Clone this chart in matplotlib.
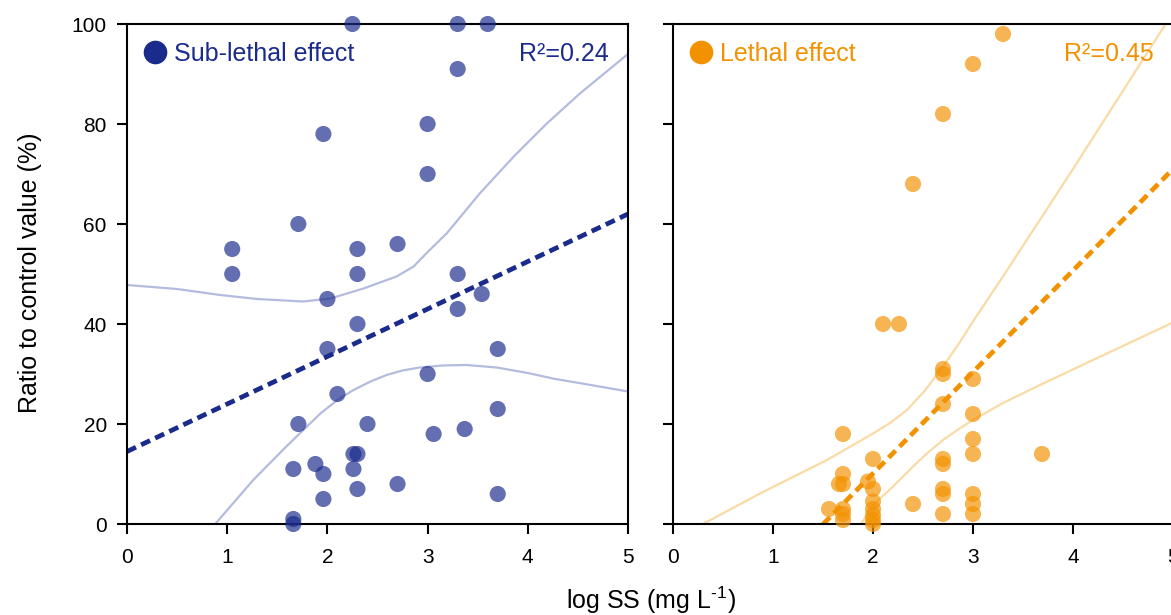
import matplotlib
matplotlib.use("Agg")
import matplotlib.pyplot as plt
import numpy as np

plt.rcParams['font.family'] = ['Liberation Sans', 'DejaVu Sans']
plt.rcParams['mathtext.fontset'] = 'custom'
plt.rcParams['mathtext.rm'] = 'Liberation Sans'
plt.rcParams['mathtext.it'] = 'Liberation Sans:italic'

# sub-lethal effect (left panel)
sub_x = [2.25, 3.30, 3.60, 3.30, 1.96, 3.00, 3.00, 1.71, 1.05, 2.30, 2.70, 1.05, 2.30, 3.30,
         2.00, 3.54, 2.30, 3.30, 2.00, 3.70, 3.00, 2.10, 3.70, 1.71, 2.40, 3.06, 3.37, 2.26,
         2.30, 1.66, 1.88, 1.96, 2.26, 2.30, 2.70, 1.96, 3.70, 1.66, 1.66]
sub_y = [100, 100, 100, 91, 78, 80, 70, 60, 55, 55, 56, 50, 50, 50,
         45, 46, 40, 43, 35, 35, 30, 26, 23, 20, 20, 18, 19, 14,
         14, 11, 12, 10, 11, 7, 8, 5, 6, 1, 0]
sub_fit = [14.5, 9.5]  # intercept, slope
sub_r2 = "R²=0.24"
sub_upper_x = [0.0, 0.5, 0.93, 1.3, 1.76, 2.03, 2.36, 2.69, 2.86, 3.02, 3.19, 3.52, 3.86, 4.19, 4.52, 5.0]
sub_upper_y = [47.8, 47.0, 45.8, 45.0, 44.5, 45.1, 47.1, 49.5, 51.5, 54.8, 58.1, 66.1, 73.5, 80.1, 86.1, 94.0]
sub_lower_x = [0.88, 1.26, 1.59, 1.93, 2.10, 2.26, 2.43, 2.59, 2.75, 2.92, 3.15, 3.39, 3.69, 4.0, 4.25, 4.6, 5.0]
sub_lower_y = [0.0, 8.8, 15.5, 22.1, 24.8, 26.8, 28.5, 29.8, 30.7, 31.3, 31.7, 31.8, 31.3, 30.2, 29.1, 27.9, 26.5]

# lethal effect (right panel)
let_x = [3.30, 3.00, 2.70, 2.40, 2.10, 2.26, 2.70, 2.70, 3.00, 2.70, 3.00, 1.70, 3.00, 3.00,
         3.69, 2.00, 2.70, 2.70, 1.70, 1.66, 1.70, 1.95, 2.00, 2.70, 2.70, 3.00, 2.00, 2.40,
         3.00, 1.56, 1.70, 2.00, 1.70, 2.00, 2.70, 3.00, 1.70, 2.00, 2.00]
let_y = [98, 92, 82, 68, 40, 40, 31, 30, 29, 24, 22, 18, 17, 14,
         14, 13, 13, 12, 10, 8, 8, 8.5, 7, 7, 6, 6, 4.5, 4,
         4, 3, 3, 3, 2, 1.8, 2, 2, 0.8, 0.8, 0]
let_fit = [-30.5, 20.3]
let_fit_start = 1.5
let_r2 = "R²=0.45"
let_upper_x = [0.30, 0.87, 1.54, 2.0, 2.17, 2.34, 2.52, 2.70, 2.85, 3.0, 3.3, 4.0, 4.92]
let_upper_y = [0.0, 6.1, 12.8, 18.1, 20.2, 22.8, 26.7, 31.5, 35.8, 40.5, 49.5, 71.0, 99.8]
let_lower_x = [1.88, 2.0, 2.20, 2.40, 2.55, 2.70, 2.85, 3.0, 3.3, 3.67, 4.20, 5.0]
let_lower_y = [0.0, 3.8, 7.5, 11.5, 14.3, 16.8, 18.9, 20.8, 24.2, 27.8, 32.8, 40.3]

navy = '#1a2b8c'
orange = '#f39200'

W, H = 1171, 615
fig = plt.figure(figsize=(W / 100, H / 100), dpi=100)
ax1 = fig.add_axes([127 / W, (H - 524) / H, 501 / W, 500 / H])
ax2 = fig.add_axes([673 / W, (H - 524) / H, 500 / W, 500 / H])


def panel(ax, xs, ys, fit, fit_x0, ux, uy, lx, ly, color, band, name, r2, show_y):
    ax.plot(ux, uy, color=band, lw=1.6, zorder=1, solid_joinstyle='round')
    ax.plot(lx, ly, color=band, lw=1.6, zorder=1, solid_joinstyle='round')
    fx = np.array([fit_x0, 5.0])
    ax.plot(fx, fit[0] + fit[1] * fx, color=color, lw=3.4, ls=(0, (2.1, 1.2)), zorder=2)
    ax.scatter(xs, ys, s=135, color=color, alpha=0.68, edgecolors='none', zorder=3, clip_on=False)
    ax.set_xlim(0, 5)
    ax.set_ylim(0, 100)
    ax.set_xticks([0, 1, 2, 3, 4, 5])
    ax.set_yticks([0, 20, 40, 60, 80, 100])
    if not show_y:
        ax.set_yticklabels([])
    ax.tick_params(direction='out', length=7.5, width=1.5, labelsize=15)
    ax.tick_params(axis='x', pad=10)
    ax.tick_params(axis='y', pad=7)
    for s in ax.spines.values():
        s.set_linewidth(1.5)
    ax.plot([0.056], [0.944], 'o', ms=16, color=color, transform=ax.transAxes, clip_on=False)
    ax.text(0.093, 0.94, name, transform=ax.transAxes, color=color, fontsize=18,
            ha='left', va='center')
    ax.text(0.961, 0.94, r2, transform=ax.transAxes, color=color, fontsize=18,
            ha='right', va='center')


panel(ax1, sub_x, sub_y, sub_fit, 0.0, sub_upper_x, sub_upper_y, sub_lower_x, sub_lower_y,
      navy, '#b4bcde', 'Sub-lethal effect', sub_r2, True)
panel(ax2, let_x, let_y, let_fit, let_fit_start, let_upper_x, let_upper_y, let_lower_x, let_lower_y,
      orange, '#fadaa5', 'Lethal effect', let_r2, False)

fig.text(30 / W, (H - 273) / H, 'Ratio to control value (%)', rotation=90, fontsize=18,
         ha='center', va='center')
fig.text(651 / W, (H - 600) / H, r'log SS (mg L$^{\text{-1}}$)', fontsize=18, ha='center', va='center')

fig.savefig('out.png', dpi=100)
